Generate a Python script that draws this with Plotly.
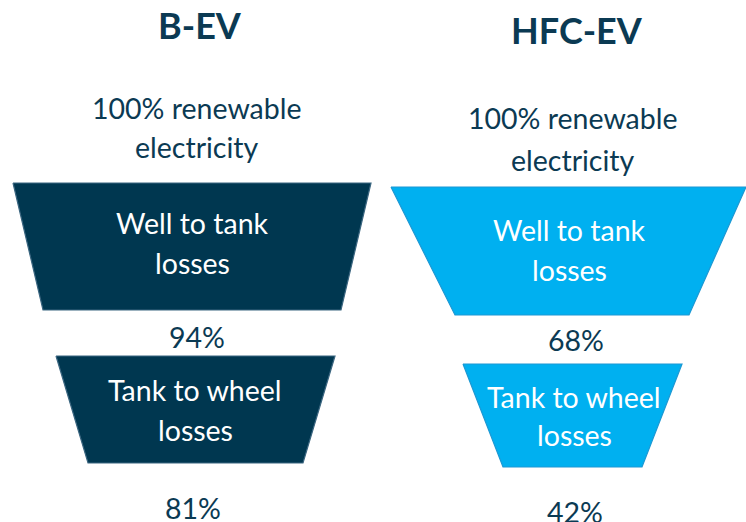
import plotly.graph_objects as go

# ---------------- data ----------------
vehicles = ["B-EV", "HFC-EV"]
source_lines = ["100% renewable", "electricity"]
stage_lines = [["Well to tank", "losses"], ["Tank to wheel", "losses"]]
bev_values = [94, 81]      # % of energy remaining after each stage
hfc_values = [68, 42]

# ---------------- styles / layout geometry (pixel space) ----------------
W, H = 746, 522
FONT = "Lato"
TEXT_COL = "#0B3A53"
FILL = ["#003750", "#00B0F0"]
EDGE = ["#3B6680", "#1C98D3"]
BODY = 28.5

# per panel: title y, source y lines, trapezoids (top_y, bot_y, top_l, top_r, bot_l, bot_r),
# stage text line y's, percent label positions
panels = [
    dict(cx=200, title_y=25, src_x=197, src_y=[108, 147],
         traps=[(183, 310, 13, 371, 43, 341), (356, 463, 56, 335, 88, 303)],
         stage_x=[192, 195], stage_y=[[223, 263], [390, 430]],
         pct_x=[197, 193], pct_y=[337, 508]),
    dict(cx=577, title_y=30, src_x=573, src_y=[118, 160],
         traps=[(187, 315, 391, 746, 455, 689), (364, 467, 463, 682, 503, 642)],
         stage_x=[569, 574], stage_y=[[230, 270], [397, 435]],
         pct_x=[576, 575], pct_y=[340, 512]),
]
values = [bev_values, hfc_values]

fig = go.Figure()
ann = []

for i, p in enumerate(panels):
    # title
    ann.append(dict(x=p["cx"], y=p["title_y"], text="<b>%s</b>" % vehicles[i],
                    font=dict(family=FONT, size=36, color=TEXT_COL)))
    # source text
    for line, y in zip(source_lines, p["src_y"]):
        ann.append(dict(x=p["src_x"], y=y, text=line,
                        font=dict(family=FONT, size=BODY, color=TEXT_COL)))
    # trapezoids + stage labels + percentages
    for s, (ty, by, tl, tr, bl, br) in enumerate(p["traps"]):
        fig.add_trace(go.Scatter(
            x=[tl, tr, br, bl, tl], y=[ty, ty, by, by, ty],
            mode="lines", fill="toself", fillcolor=FILL[i],
            line=dict(color=EDGE[i], width=1.2), hoverinfo="skip",
            showlegend=False))
        for line, y in zip(stage_lines[s], p["stage_y"][s]):
            ann.append(dict(x=p["stage_x"][s], y=y, text=line,
                            font=dict(family=FONT, size=BODY, color="white")))
        ann.append(dict(x=p["pct_x"][s], y=p["pct_y"][s],
                        text="%d%%" % values[i][s],
                        font=dict(family=FONT, size=BODY, color=TEXT_COL)))

for a in ann:
    a.update(xref="x", yref="y", showarrow=False, xanchor="center", yanchor="middle")

fig.update_layout(
    width=W, height=H, margin=dict(l=0, r=0, t=0, b=0),
    paper_bgcolor="white", plot_bgcolor="white",
    xaxis=dict(range=[0, W], visible=False, fixedrange=True),
    yaxis=dict(range=[H, 0], visible=False, fixedrange=True),
    annotations=ann, showlegend=False,
)

fig.write_html("out.html", config={"displayModeBar": False},
               post_script="document.body.style.margin='0';document.body.style.overflow='hidden';")
